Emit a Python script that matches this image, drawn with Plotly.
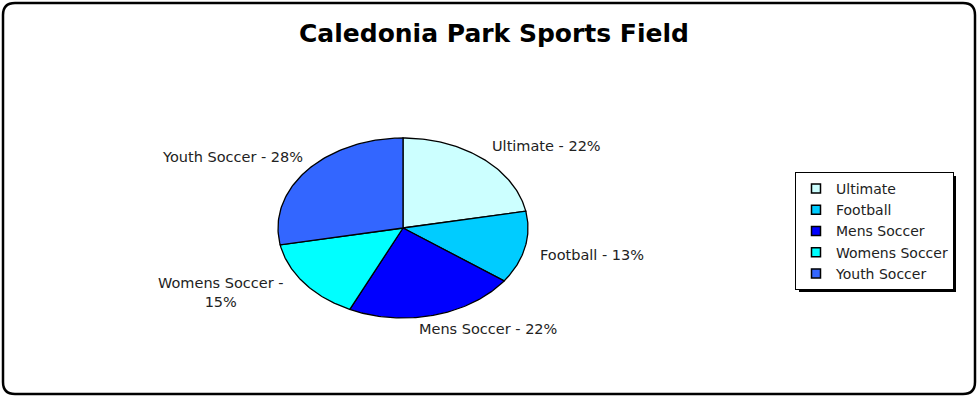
import numpy as np
import plotly.graph_objects as go

categories = ["Ultimate", "Football", "Mens Soccer", "Womens Soccer", "Youth Soccer"]
values = [22, 13, 22, 15, 28]
colors = ["#CCFFFF", "#00CCFF", "#0000FF", "#00FFFF", "#3366FF"]
label_texts = ["Ultimate - 22%", "Football - 13%", "Mens Soccer - 22%", "Womens Soccer -<br>15%", "Youth Soccer - 28%"]
title_text = "Caledonia Park Sports Field"

W, H = 978, 396
CX, CY, RX, RY = 403, 228, 125, 90
FONT = "DejaVu Sans, Verdana, sans-serif"

fig = go.Figure()
total = sum(values)
start = 0.0
for cat, val, col in zip(categories, values, colors):
    end = start + val / total * 360
    ang = np.radians(np.linspace(start, end, 80))
    xs = np.concatenate([[CX], CX + RX * np.sin(ang), [CX]])
    ys = np.concatenate([[CY], CY - RY * np.cos(ang), [CY]])
    fig.add_trace(go.Scatter(x=xs, y=ys, mode="lines", fill="toself", fillcolor=col,
                             line=dict(color="black", width=1.3), showlegend=False,
                             hoverinfo="skip"))
    start = end

for cat, col in zip(categories, colors):
    fig.add_trace(go.Scatter(x=[None], y=[None], mode="markers", name=cat,
                             marker=dict(symbol="square", size=9, color=col,
                                         line=dict(color="black", width=1.5))))

label_pos = [(490, 146, "left"), (538, 255, "left"), (488, 329, "center"), (221, 292, "center"), (305, 157, "right")]
for txt, (x, y, anc) in zip(label_texts, label_pos):
    fig.add_annotation(x=x, y=y, xref="x", yref="y", text=txt, showarrow=False,
                       xanchor=anc, yanchor="middle", align="center",
                       font=dict(family=FONT, size=14.5, color="#222"))

fig.add_annotation(x=494, y=33, xref="x", yref="y",
                   text=f"<b>{title_text}</b>", showarrow=False,
                   xanchor="center", yanchor="middle",
                   font=dict(family=FONT, size=25, color="black"))

# rounded border
r = 12
x0, y0, x1, y1 = 3, 3, 975, 394
path = (f"M {x0+r},{y0} L {x1-r},{y0} Q {x1},{y0} {x1},{y0+r} L {x1},{y1-r} Q {x1},{y1} {x1-r},{y1} "
        f"L {x0+r},{y1} Q {x0},{y1} {x0},{y1-r} L {x0},{y0+r} Q {x0},{y0} {x0+r},{y0} Z")
fig.add_shape(type="path", path=path, xref="x", yref="y", line=dict(color="black", width=2.5),
              layer="below")
# legend shadow
fig.add_shape(type="rect", x0=799, y0=176, x1=956, y1=292, xref="x", yref="y",
              fillcolor="black", line=dict(width=0), layer="below")

fig.update_layout(
    width=W, height=H, margin=dict(l=0, r=0, t=0, b=0, autoexpand=False),
    paper_bgcolor="white", plot_bgcolor="white",
    xaxis=dict(range=[0, W], visible=False, fixedrange=True, domain=[0, 1]),
    yaxis=dict(range=[H, 0], visible=False, fixedrange=True, domain=[0, 1]),
    showlegend=True,
    legend=dict(x=795 / W, y=1 - 172 / H, xanchor="left", yanchor="top",
                bgcolor="white", bordercolor="black", borderwidth=1,
                font=dict(family=FONT, size=14, color="#222"),
                itemwidth=30, tracegroupgap=0),
)
fig.write_html("out.html", config={"displayModeBar": False},
               post_script="document.body.style.margin='0';document.body.style.overflow='hidden';")
